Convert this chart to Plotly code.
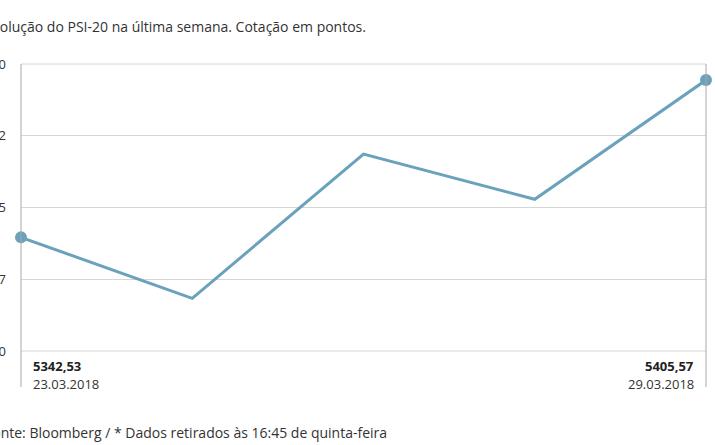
import plotly.graph_objects as go

dates = ["23.03.2018", "26.03.2018", "27.03.2018", "28.03.2018", "29.03.2018"]
values = [5342.53, 5318.1, 5375.9, 5357.8, 5405.57]
tick_vals = [5297.0, 5325.75, 5354.5, 5383.25, 5412.0]
tick_text = ["5297,0", "5325,7", "5354,5", "5383,2", "5412,0"]

title_text = "Evolução do PSI-20 na última semana. Cotação em pontos."
source_text = "Fonte: Bloomberg / * Dados retirados às 16:45 de quinta-feira"

FONT = "Open Sans"
LINE_COLOR = "#6aa2bc"
GRID = "#d6d6d6"

W, H = 715, 445
# plot area in page pixels: x 21..706, y 64..351
PL, PR, PT, PB = 21, 706, 64, 351
L, R, T, B = PL, W - PR, PT, H - PB
pw = PR - PL
ph = PB - PT

def px(x):
    return (x - PL) / pw

def py(y):
    return (PB - y) / ph

xs = list(range(len(values)))
fig = go.Figure()
fig.add_trace(go.Scatter(
    x=xs, y=values, mode="lines",
    line=dict(color=LINE_COLOR, width=3),
    cliponaxis=False, hoverinfo="skip", showlegend=False,
))
fig.add_trace(go.Scatter(
    x=[xs[0], xs[-1]], y=[values[0], values[-1]], mode="markers",
    marker=dict(color=LINE_COLOR, size=12),
    cliponaxis=False, hoverinfo="skip", showlegend=False,
))

def fmt(v):
    return f"{v:.2f}".replace(".", ",")

annotations = [
    dict(text=title_text, xref="paper", yref="paper", x=px(-17), y=py(27),
         xanchor="left", yanchor="middle", showarrow=False,
         font=dict(family=FONT, size=14, color="#333333")),
    dict(text=source_text, xref="paper", yref="paper", x=px(-17), y=py(433),
         xanchor="left", yanchor="middle", showarrow=False,
         font=dict(family=FONT, size=14, color="#333333")),
    dict(text="<b>" + fmt(values[0]) + "</b>", xref="paper", yref="paper", x=px(31), y=py(366),
         xanchor="left", yanchor="middle", showarrow=False,
         font=dict(family=FONT, size=13, color="#222222")),
    dict(text=dates[0], xref="paper", yref="paper", x=px(31), y=py(383.5),
         xanchor="left", yanchor="middle", showarrow=False,
         font=dict(family=FONT, size=13, color="#333333")),
    dict(text="<b>" + fmt(values[-1]) + "</b>", xref="paper", yref="paper", x=px(696), y=py(366),
         xanchor="right", yanchor="middle", showarrow=False,
         font=dict(family=FONT, size=13, color="#222222")),
    dict(text=dates[-1], xref="paper", yref="paper", x=px(696), y=py(383.5),
         xanchor="right", yanchor="middle", showarrow=False,
         font=dict(family=FONT, size=13, color="#333333")),
]

shapes = [
    dict(type="line", xref="paper", yref="paper", x0=0, x1=1, y0=1, y1=1,
         line=dict(color=GRID, width=1), layer="below"),
    dict(type="line", xref="paper", yref="paper", x0=0, x1=1, y0=0, y1=0,
         line=dict(color=GRID, width=1), layer="below"),
    dict(type="line", xref="paper", yref="paper", x0=0, x1=0, y0=1, y1=py(387),
         line=dict(color="#a8a8a8", width=1)),
    dict(type="line", xref="paper", yref="paper", x0=1, x1=1, y0=1, y1=py(387),
         line=dict(color="#a8a8a8", width=1)),
]

fig.update_layout(
    width=W, height=H,
    margin=dict(l=L, r=R, t=T, b=B, autoexpand=False),
    paper_bgcolor="white", plot_bgcolor="white",
    annotations=annotations, shapes=shapes,
    xaxis=dict(range=[0, len(values) - 1], showgrid=False, zeroline=False,
               showticklabels=False, showline=False, fixedrange=True, automargin=False),
    yaxis=dict(range=[tick_vals[0], tick_vals[-1]], tickvals=tick_vals, ticktext=tick_text,
               showgrid=True, gridcolor=GRID, gridwidth=1, zeroline=False,
               showline=False, ticks="", ticklabelstandoff=14, automargin=False,
               ticklabeloverflow="allow",
               tickfont=dict(family=FONT, size=13, color="#333333"), fixedrange=True),
    font=dict(family=FONT),
)

fig.write_html("out.html", config={"displayModeBar": False},
               post_script="document.body.style.margin='0px';")
